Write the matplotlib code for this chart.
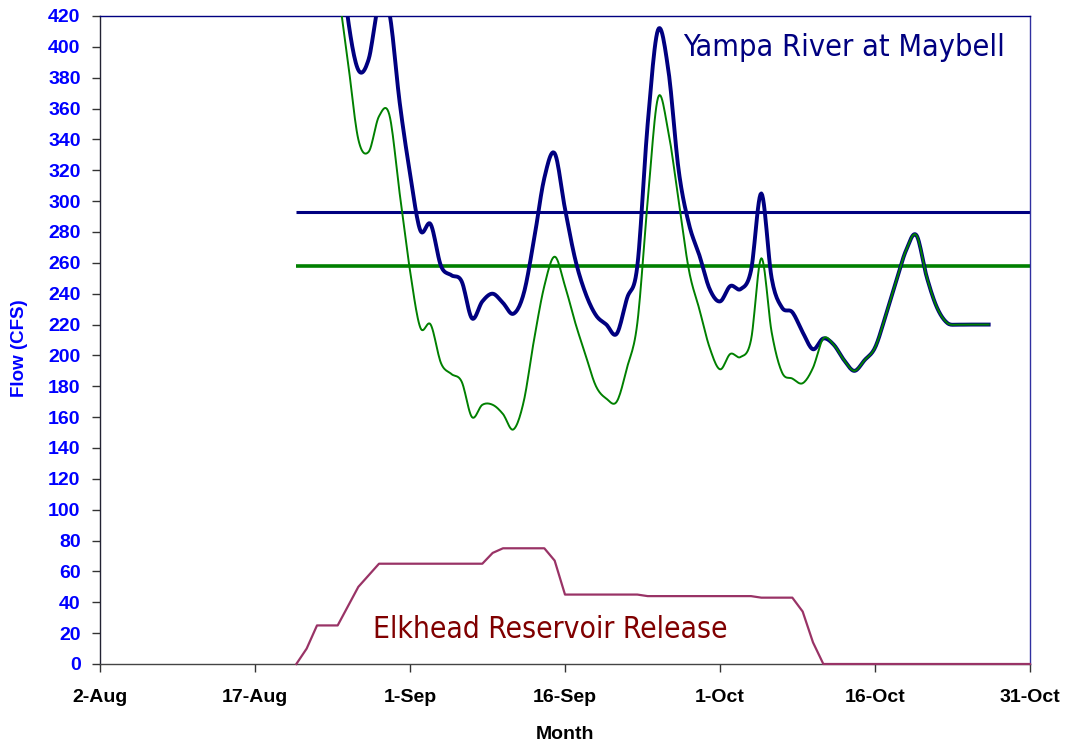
import matplotlib
matplotlib.use("Agg")
import matplotlib.pyplot as plt
import matplotlib.dates as mdates
import numpy as np
import datetime as dt

# ---------------- data ----------------
yampa_start = "2006-08-25"
yampa = [480, 418, 385, 392, 428, 422, 364, 318, 281, 285, 258, 252, 248, 224,
         235, 240, 234, 227, 240, 275, 315, 331, 295, 262, 240, 226, 220, 214,
         237, 258, 350, 411, 385, 320, 285, 265, 243, 235, 245, 243, 255, 305,
         250, 231, 228, 215, 204, 211, 207, 197, 190, 197, 205, 225, 247, 268,
         278, 251, 231, 221, 220, 220, 220, 220]
natural = [440, 390, 340, 332, 355, 356, 305, 255, 218, 220, 195, 188, 183, 160,
           168, 168, 162, 152, 170, 210, 245, 264, 245, 221, 200, 180, 172, 170,
           192, 221, 300, 367, 345, 300, 255, 230, 205, 191, 201, 199, 210, 263,
           215, 189, 185, 182, 192, 211, 207, 197, 190, 197, 205, 225, 247, 268,
           278, 251, 231, 221, 220, 220, 220, 220]
release_dates = ["2006-08-21", "2006-08-22", "2006-08-23", "2006-08-25", "2006-08-27",
                 "2006-08-29", "2006-09-08", "2006-09-09", "2006-09-10", "2006-09-14",
                 "2006-09-15", "2006-09-16", "2006-09-23", "2006-09-24", "2006-10-04",
                 "2006-10-05", "2006-10-08", "2006-10-09", "2006-10-10", "2006-10-11",
                 "2006-10-31"]
release = [0, 10, 25, 25, 50, 65, 65, 72, 75, 75, 67, 45, 45, 44, 44, 43, 43, 34,
           14, 0, 0]
target_yampa = 293
target_natural = 258
target_span = ["2006-08-21", "2006-10-31"]
tick_dates = ["2006-08-02", "2006-08-17", "2006-09-01", "2006-09-16",
              "2006-10-01", "2006-10-16", "2006-10-31"]
y_ticks = list(range(0, 421, 20))

# ---------------- helpers ----------------
def to_date(s):
    return dt.datetime.strptime(s, "%Y-%m-%d")

def smooth_line(xs, ys, n=12):
    """Excel-style smoothed line rendering (Catmull-Rom through every point)."""
    x = np.asarray(xs, float)
    y = np.asarray(ys, float)
    xp = np.concatenate([[2*x[0]-x[1]], x, [2*x[-1]-x[-2]]])
    yp = np.concatenate([[2*y[0]-y[1]], y, [2*y[-1]-y[-2]]])
    t = np.linspace(0, 1, n, endpoint=False)
    outx, outy = [], []
    for i in range(1, len(xp)-2):
        for arr, out in ((xp, outx), (yp, outy)):
            p0, p1, p2, p3 = arr[i-1], arr[i], arr[i+1], arr[i+2]
            out.extend(0.5*((2*p1) + (-p0+p2)*t + (2*p0-5*p1+4*p2-p3)*t**2
                            + (-p0+3*p1-3*p2+p3)*t**3))
    outx.append(x[-1]); outy.append(y[-1])
    return np.array(outx), np.array(outy)

start = to_date(yampa_start)
flow_dates = [start + dt.timedelta(days=i) for i in range(len(yampa))]
flow_num = mdates.date2num(flow_dates)
rel_dates = [to_date(s) for s in release_dates]
span = [to_date(s) for s in target_span]
ticks = [to_date(s) for s in tick_dates]

plt.rcParams['font.family'] = ['Liberation Sans', 'DejaVu Sans']

NAVY = "#000080"
GREEN = "#008000"
PLUM = "#993366"
MAROON = "#800000"

fig = plt.figure(figsize=(10.69, 7.46), dpi=100)
ax = fig.add_axes([100/1069, 82/746, 930/1069, 648/746])

ax.plot(span, [target_yampa]*2, color=NAVY, lw=2.2, solid_capstyle='butt', zorder=2)
ax.plot(span, [target_natural]*2, color=GREEN, lw=2.6, solid_capstyle='butt', zorder=2)
sx, sy = smooth_line(flow_num, yampa)
ax.plot(sx, sy, color=NAVY, lw=2.8, solid_joinstyle='round', zorder=3)
sx, sy = smooth_line(flow_num, natural)
ax.plot(sx, sy, color=GREEN, lw=1.4, solid_joinstyle='round', zorder=4)
ax.plot(rel_dates, release, color=PLUM, lw=1.6, zorder=3, clip_on=False)

ax.set_xlim(to_date("2006-08-02"), to_date("2006-10-31"))
ax.set_ylim(0, 420)
ax.set_xticks(ticks)
ax.xaxis.set_major_formatter(plt.FuncFormatter(
    lambda v, p: (lambda d: f"{d.day}-{d.strftime('%b')}")(mdates.num2date(v))))
ax.set_yticks(y_ticks)

for lab in ax.get_yticklabels():
    lab.set_color("#0000FF")
    lab.set_fontweight("bold")
    lab.set_fontsize(14)
for lab in ax.get_xticklabels():
    lab.set_fontweight("bold")
    lab.set_fontsize(14)

ax.tick_params(axis='both', direction='out', length=6, width=1, color="#333333")
ax.tick_params(axis='x', pad=12)
ax.tick_params(axis='y', pad=8)

ax.spines['left'].set_color("#222233")
ax.spines['bottom'].set_color("#444444")
ax.spines['top'].set_color(NAVY)
ax.spines['right'].set_color("#3030a0")
for s in ax.spines.values():
    s.set_linewidth(1)

ax.set_xlabel("Month", fontsize=14, fontweight='bold')
ax.xaxis.set_label_coords(0.5, -0.095)
ax.set_ylabel("Flow (CFS)", fontsize=13.5, fontweight='bold', color="#0000FF")
ax.yaxis.set_label_coords(-0.077, 0.488)

ax.text(0.973, 0.951, "Yampa River at Maybell", transform=ax.transAxes,
        ha='right', va='center', fontsize=22, color=NAVY,
        family=['DejaVu Sans'], fontstretch='condensed')
ax.text(0.2935, 0.0525, "Elkhead Reservoir Release", transform=ax.transAxes,
        ha='left', va='center', fontsize=21.5, color=MAROON,
        family=['DejaVu Sans'], fontstretch='condensed')

fig.savefig("out.png", dpi=100)
